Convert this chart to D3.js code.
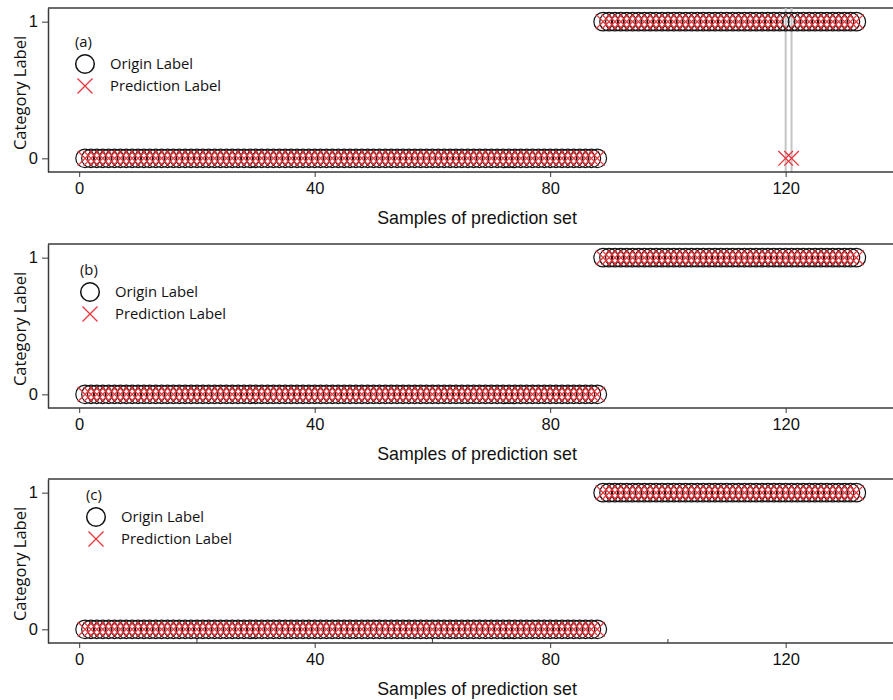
<!DOCTYPE html>
<html>
<head>
<meta charset="utf-8">
<script src="https://cdn.jsdelivr.net/npm/d3@7"></script>
<style>
  html, body { margin: 0; padding: 0; background: #fff; }
  svg { display: block; }
</style>
</head>
<body>
<svg id="chart" width="893" height="700"></svg>
<script>
// ---------------- DATA ----------------
const panelNames = ["(a)", "(b)", "(c)"];
const xTicks = [0, 40, 80, 120];
const yTicks = [0, 1];
const legendLabels = ["Origin Label", "Prediction Label"];
const xTitle = "Samples of prediction set";
const yTitle = "Category Label";
// sample numbers 1..132
const sampleIds = [
  1,2,3,4,5,6,7,8,9,10,11,12,13,14,15,16,17,18,19,20,
  21,22,23,24,25,26,27,28,29,30,31,32,33,34,35,36,37,38,39,40,
  41,42,43,44,45,46,47,48,49,50,51,52,53,54,55,56,57,58,59,60,
  61,62,63,64,65,66,67,68,69,70,71,72,73,74,75,76,77,78,79,80,
  81,82,83,84,85,86,87,88,89,90,91,92,93,94,95,96,97,98,99,100,
  101,102,103,104,105,106,107,108,109,110,111,112,113,114,115,116,117,118,119,120,
  121,122,123,124,125,126,127,128,129,130,131,132
];
// origin labels: 88 of class 0, 44 of class 1
const originLabels = (
  "0000000000" + "0000000000" + "0000000000" + "0000000000" +
  "0000000000" + "0000000000" + "0000000000" + "0000000000" +
  "00000000" +
  "1111111111" + "1111111111" + "1111111111" + "1111111111" + "1111"
).split("").map(Number);
// predictions of model (a): samples 120 and 121 misclassified as 0
const predictionA = (
  "0000000000" + "0000000000" + "0000000000" + "0000000000" +
  "0000000000" + "0000000000" + "0000000000" + "0000000000" +
  "00000000" +
  "1111111111" + "1111111111" + "1111111111" + "1" + "00" + "1111111111" + "1"
).split("").map(Number);
// predictions of models (b) and (c): all correct
const predictionB = originLabels.slice();
const predictionC = originLabels.slice();
const predictions = [predictionA, predictionB, predictionC];
const minorTicksC = [20, 60, 100];

// ---------------- LAYOUT ----------------
const svg = d3.select("#chart");
const panels = [
  { top: 8,   bottom: 172, legend: { x: 85, y: 42 } },
  { top: 244, bottom: 408, legend: { x: 90, y: 270 } },
  { top: 479, bottom: 643, legend: { x: 96, y: 495 } }
];
const left = 48;
const x = d3.scaleLinear().domain([-5.3, 140]).range([left, 903.4]);
const axisColor = "#3a3a3a";
const red = "#e8343a";
const tickFont = "'Liberation Sans', Arial, sans-serif";
const legendFont = "'Open Sans', 'Noto Sans', sans-serif";
const crossPath = s => `M${-s},${-s}L${s},${s}M${-s},${s}L${s},${-s}`;

panels.forEach((p, pi) => {
  const y = d3.scaleLinear().domain([-0.1, 1.1]).range([p.bottom, p.top]);
  const g = svg.append("g");
  const pred = predictions[pi];

  // frame top line (right edge lies outside the picture)
  g.append("line").attr("x1", left).attr("x2", 893).attr("y1", p.top).attr("y2", p.top)
    .attr("stroke", axisColor).attr("stroke-width", 1.3);

  // misclassification guide lines
  sampleIds.forEach((s, i) => {
    if (pred[i] !== originLabels[i]) {
      g.append("line").attr("x1", x(s)).attr("x2", x(s))
        .attr("y1", p.top).attr("y2", p.bottom)
        .attr("stroke", "#c4c4c4").attr("stroke-width", 2);
    }
  });

  // x axis
  const xa = g.append("g").attr("transform", `translate(0,${p.bottom})`)
    .call(d3.axisBottom(x).tickValues(xTicks).tickFormat(d3.format("d"))
      .tickSize(5).tickPadding(5).tickSizeOuter(0));
  xa.select(".domain").attr("d", `M${left},0H893`).attr("stroke", axisColor).attr("stroke-width", 1.5);
  xa.selectAll(".tick line").attr("stroke", axisColor);
  xa.selectAll(".tick text").attr("font-family", tickFont).attr("font-size", 16.5).attr("fill", "#111");

  if (pi === 2) {
    g.selectAll(".minor").data(minorTicksC).enter().append("line")
      .attr("x1", d => x(d)).attr("x2", d => x(d))
      .attr("y1", p.bottom).attr("y2", p.bottom - 4)
      .attr("stroke", axisColor).attr("stroke-width", 1);
  }

  // y axis
  const ya = g.append("g").attr("transform", `translate(${left},0)`)
    .call(d3.axisLeft(y).tickValues(yTicks).tickFormat(d3.format("d"))
      .tickSize(6).tickPadding(4).tickSizeOuter(0));
  ya.select(".domain").attr("stroke", axisColor).attr("stroke-width", 1.5);
  ya.selectAll(".tick line").attr("stroke", axisColor);
  ya.selectAll(".tick text").attr("font-family", tickFont).attr("font-size", 16.5).attr("fill", "#111");

  // titles
  g.append("text").attr("x", 477).attr("y", p.bottom + 52)
    .attr("text-anchor", "middle").attr("font-family", tickFont).attr("font-size", 17.8)
    .attr("fill", "#111").text(xTitle);
  g.append("text")
    .attr("transform", `translate(26,${(p.top + p.bottom) / 2 + 3}) rotate(-90)`)
    .attr("text-anchor", "middle").attr("font-family", legendFont).attr("font-size", 16.5)
    .attr("fill", "#111").text(yTitle);

  // origin circles
  g.selectAll(".orig").data(sampleIds).enter().append("circle")
    .attr("cx", d => x(d)).attr("cy", (d, i) => y(originLabels[i]))
    .attr("r", 9.3).attr("fill", "none").attr("stroke", "#111").attr("stroke-width", 1.2);
  // prediction crosses
  g.selectAll(".pred").data(sampleIds).enter().append("path")
    .attr("transform", (d, i) => `translate(${x(d)},${y(pred[i])})`)
    .attr("d", crossPath(7.3)).attr("fill", "none").attr("stroke", red).attr("stroke-width", 1.3);

  // legend
  const L = p.legend;
  g.append("text").attr("x", L.x - 10).attr("y", L.y + 5)
    .attr("font-family", legendFont).attr("font-size", 14.8).attr("fill", "#111").text(panelNames[pi]);
  g.append("circle").attr("cx", L.x).attr("cy", L.y + 22).attr("r", 9.3)
    .attr("fill", "none").attr("stroke", "#111").attr("stroke-width", 1.5);
  g.append("text").attr("x", L.x + 25).attr("y", L.y + 27)
    .attr("font-family", legendFont).attr("font-size", 14.8).attr("fill", "#111").text(legendLabels[0]);
  g.append("path").attr("transform", `translate(${L.x},${L.y + 44})`)
    .attr("d", crossPath(7.5)).attr("fill", "none").attr("stroke", red).attr("stroke-width", 1.3);
  g.append("text").attr("x", L.x + 25).attr("y", L.y + 49)
    .attr("font-family", legendFont).attr("font-size", 14.8).attr("fill", "#111").text(legendLabels[1]);
});
</script>
</body>
</html>
